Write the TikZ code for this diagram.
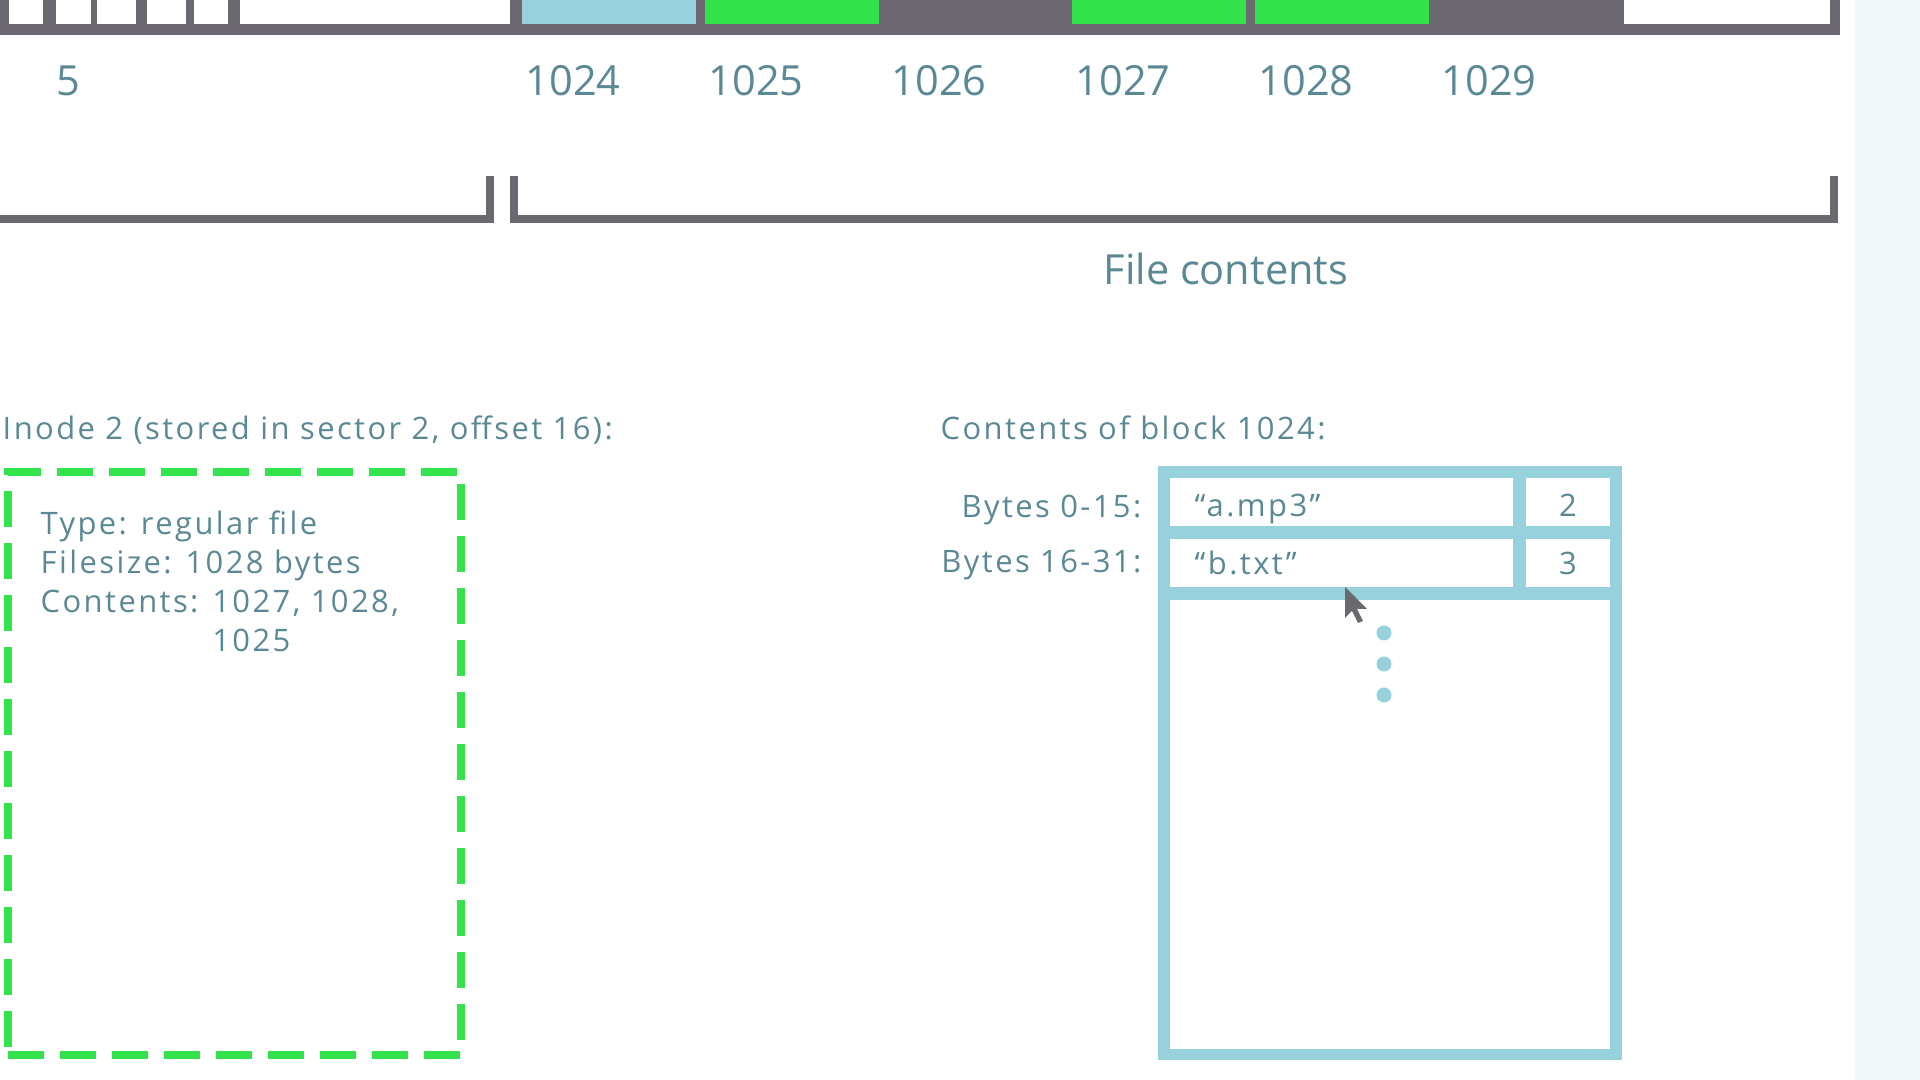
\documentclass[tikz,border=0pt]{standalone}
\usepackage{fontspec}
\setmainfont{Open Sans}
\newfontfamily\lblfont[LetterSpace=7.8]{Open Sans}
\usetikzlibrary{positioning}

\definecolor{bargray}{HTML}{6B6870}
\definecolor{dirblue}{HTML}{96D1DC}
\definecolor{blkgreen}{HTML}{33E34B}
\definecolor{lbltext}{HTML}{5A8894}
\definecolor{speck}{HTML}{F3F9FA}

\begin{document}
\begin{tikzpicture}[x=0.01cm, y=-0.01cm,
    blk/.style={anchor=north west, inner sep=0pt, outer sep=0pt, minimum height=0.24cm, minimum width=1.74cm},
    slot/.style={anchor=north west, inner sep=0pt, outer sep=0pt},
    num/.style={anchor=base west, inner sep=0pt, text=lbltext, font=\fontsize{11.8}{14}\selectfont},
    lbl/.style={inner sep=0pt, text=lbltext, font=\lblfont\fontsize{8.8}{11.1}\selectfont},
    bracket/.style={draw=bargray, line width=2pt},
    inodebox/.style={draw=blkgreen, line width=0.08cm, dash pattern=on 0.36cm off 0.16cm, anchor=north west, inner sep=0pt, outer sep=0pt}
]
\useasboundingbox (0,0) rectangle (1920,1080);
\fill[speck] (1855,0) rectangle (1920,1080);

% Disk blocks
\fill[bargray] (0,0) rectangle (1840,35);
\foreach \x/\w in {9/0.34, 97/0.39, 147/0.39, 194/0.34, 240/2.70, 1624/2.06} {
    \node[blk, fill=white, minimum width=\w cm] at (\x,0) {};
}
\node[blk, fill=white, minimum width=0.35cm] (b5) at (56,0) {};
\node[num] (l5) at ([yshift=-0.71cm]b5.south west) {5};
\foreach \n/\x/\c in {1024/522/dirblue, 1025/705/blkgreen, 1026/888/bargray, 1027/1072/blkgreen, 1028/1255/blkgreen, 1029/1438/bargray} {
    \node[blk, fill=\c] (b\n) at (\x,0) {};
    \node[num] (l\n) at ([xshift=0.03cm, yshift=-0.71cm]b\n.south west) {\n};
}

% Brackets
\draw[bracket] (0,219) -- (490,219) -- (490,176);
\draw[bracket] (514,176) -- (514,219) -- (1834,219) -- (1834,176);
\node[num, anchor=base] (fc) at (1226,285) {File contents};

% Inode
\node[lbl, anchor=base west] (ihead) at (2,440) {Inode 2 (stored in sector 2, offset 16):};
\node[inodebox, minimum width=4.53cm, minimum height=5.83cm] (inode) at (8,472) {};
\node[lbl, align=left, anchor=north west] (itext) at (40,510) {Type: regular file\\Filesize: 1028 bytes\\Contents: 1027, 1028,\\\phantom{Contents: }1025};

% Directory block
\node[lbl, anchor=base west] (dhead) at (940,440) {Contents of block 1024:};
\node[slot, fill=dirblue, minimum width=4.64cm, minimum height=5.94cm] (dir) at (1158,466) {};
\node[slot, fill=white, minimum width=3.43cm, minimum height=0.48cm] (name1) at (1170,478) {};
\node[slot, fill=white, minimum width=0.84cm, minimum height=0.48cm] (ino1) at (1526,478) {};
\node[slot, fill=white, minimum width=3.43cm, minimum height=0.48cm] (name2) at (1170,539) {};
\node[slot, fill=white, minimum width=0.84cm, minimum height=0.48cm] (ino2) at (1526,539) {};
\node[slot, fill=white, minimum width=4.40cm, minimum height=4.49cm] (rest) at (1170,600) {};

\node[lbl, anchor=base east] (by1) at (1142,518) {Bytes 0-15:};
\node[lbl, anchor=base east] (by2) at (1142,573) {Bytes 16-31:};
\node[lbl, anchor=base west] (n1) at (1194,517) {“a.mp3”};
\node[lbl, anchor=base west] (n2) at (1194,575) {“b.txt”};
\node[lbl, anchor=base] (i1) at (ino1.center |- 0,517) {2};
\node[lbl, anchor=base] (i2) at (ino2.center |- 0,575) {3};

\foreach \y in {633, 664, 695} {
    \fill[dirblue] (1384,\y) circle (0.075cm);
}

% Cursor
\fill[bargray] (1345,587) -- ++(0,31) -- ++(7,-7) -- ++(6,12) -- ++(5,-2) -- ++(-6,-12) -- ++(10,0) -- cycle;

\end{tikzpicture}
\end{document}
